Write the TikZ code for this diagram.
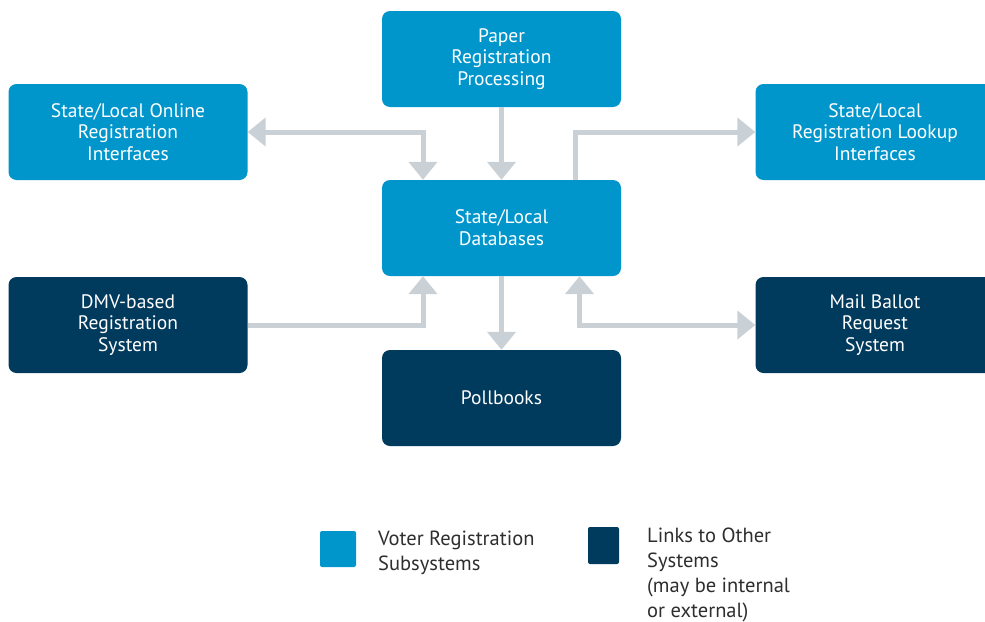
\documentclass[tikz,border=0pt]{standalone}
\usepackage{fontspec}
\setmainfont{PT Sans}
\usetikzlibrary{arrows.meta}

\definecolor{subblue}{HTML}{0096CC}
\definecolor{linknavy}{HTML}{003A5D}
\definecolor{arrgray}{HTML}{C9D1D6}
\definecolor{legtext}{HTML}{2E2E2E}

\begin{document}
\begin{tikzpicture}[x=1pt,y=-1pt,
    box/.style={rounded corners=8pt, minimum width=239pt, minimum height=96pt,
      text=white, align=center, font=\fontsize{19.5}{21.7}\selectfont, inner sep=0pt},
    sub/.style={box, fill=subblue},
    ext/.style={box, fill=linknavy},
    arr/.style={draw=arrgray, line width=5pt,
      arrows={-Triangle[width=28pt,length=18pt]}},
    legend/.style={anchor=north west, inner sep=0pt, align=left, text=legtext,
      font=\fontsize{20.5}{25}\selectfont}]
      \useasboundingbox (0,0) rectangle (985,621);
      % boxes
      \node[sub] (pp) at (501.5,59) {Paper\\Registration\\Processing};
      \node[sub] (on) at (128,132) {State/Local Online\\Registration\\Interfaces};
      \node[sub] (lk) at (875,132) {State/Local\\Registration Lookup\\Interfaces};
      \node[sub] (db) at (501.5,228) {State/Local\\Databases};
      \node[ext] (dmv) at (128,325) {DMV-based\\Registration\\System};
      \node[ext] (mail) at (875,325) {Mail Ballot\\Request\\System};
      \node[ext] (pb) at (501.5,398) {Pollbooks};
      % connectors
      \draw[arr,{Triangle[width=28pt,length=18pt]}-{Triangle[width=28pt,length=18pt]}]
        (on.east) -| ([xshift=-78.5pt]db.north);
      \draw[arr] (pp) -- (db);
      \draw[arr] ([xshift=74pt]db.north) |- (lk.west);
      \draw[arr] (dmv.east) -| ([xshift=-78.5pt]db.south);
      \draw[arr] (db) -- (pb);
      \draw[arr,{Triangle[width=28pt,length=18pt]}-{Triangle[width=28pt,length=18pt]}]
        ([xshift=78pt]db.south) |- (mail.west);
      % legend
      \node[fill=subblue, rounded corners=2pt, minimum width=36pt, minimum height=36pt,
        inner sep=0pt] (ksub) at (338,549) {};
      \node[legend] (tsub) at (378,531) {Voter Registration\\Subsystems};
      \node[fill=linknavy, rounded corners=2pt, minimum width=31pt, minimum height=37pt,
        inner sep=0pt] (kext) at (603.5,545.5) {};
      \node[legend] (text) at (647,528) {Links to Other\\Systems\\(may be internal\\or external)};
    \end{tikzpicture}
\end{document}
